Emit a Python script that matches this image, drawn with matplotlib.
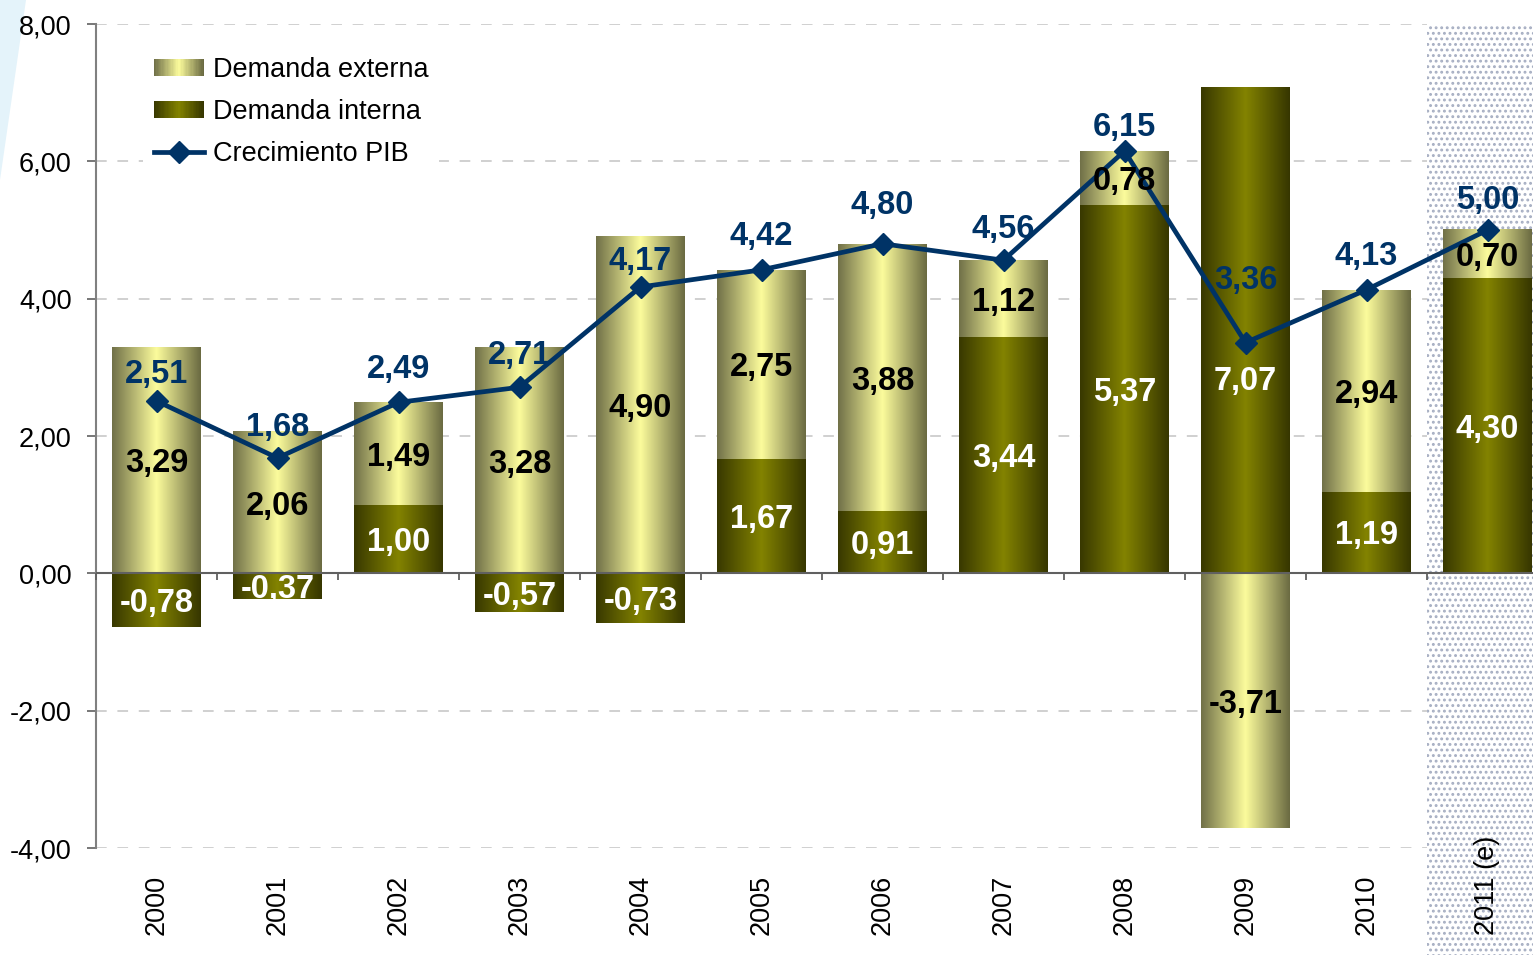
import numpy as np
import matplotlib
matplotlib.use('Agg')
import matplotlib.pyplot as plt
from matplotlib.colors import LinearSegmentedColormap
from matplotlib.patches import Rectangle, Polygon
from matplotlib.legend_handler import HandlerBase
from matplotlib.lines import Line2D
import matplotlib.transforms as mtransforms

# ---------------- data ----------------
years = ['2000', '2001', '2002', '2003', '2004', '2005', '2006', '2007',
         '2008', '2009', '2010', '2011 (e)']
demanda_interna = [-0.78, -0.37, 1.00, -0.57, -0.73, 1.67, 0.91, 3.44,
                   5.37, 7.07, 1.19, 4.30]
demanda_externa = [3.29, 2.06, 1.49, 3.28, 4.90, 2.75, 3.88, 1.12,
                   0.78, -3.71, 2.94, 0.70]
crecimiento_pib = [2.51, 1.68, 2.49, 2.71, 4.17, 4.42, 4.80, 4.56,
                   6.15, 3.36, 4.13, 5.00]
yticks = [-4, -2, 0, 2, 4, 6, 8]
labels = ['Demanda externa', 'Demanda interna', 'Crecimiento PIB']

plt.rcParams['font.family'] = ['Liberation Sans', 'DejaVu Sans']
plt.rcParams['hatch.linewidth'] = 1.3


def fmt(v):
    return f'{v:.2f}'.replace('.', ',')


ext_cmap = LinearSegmentedColormap.from_list(
    'ext', [(0, '#707048'), (0.5, '#fcfc9c'), (1, '#6a6a42')])
int_cmap = LinearSegmentedColormap.from_list(
    'int', [(0, '#383800'), (0.5, '#838300'), (1, '#363600')])
navy = '#003366'

W, H = 1533, 955
fig = plt.figure(figsize=(W / 100, H / 100), dpi=100)
ax = fig.add_axes([96 / W, 1 - 848 / H, 1452 / W, 824 / H])

n = len(years)
x = np.arange(n)
bw = 0.73
grad = np.linspace(0, 1, 256).reshape(1, -1)

# decorative swoosh in top-left corner
fig.patches.append(Polygon([(0, 1), (26 / W, 1), (0, 1 - 180 / H)],
                           closed=True, transform=fig.transFigure,
                           facecolor='#e4f3fa', edgecolor='none', zorder=-5))

# dotted background for the estimated year
trans_xa = mtransforms.blended_transform_factory(ax.transData, ax.transAxes)
bottom_axes = -(1 - 848 / H) / (824 / H) - 0.01
ax.add_patch(Rectangle((n - 1.5, bottom_axes), 1.0, 1 - bottom_axes,
                       transform=trans_xa, facecolor='white',
                       edgecolor='#a6aec2', hatch='...', linewidth=0,
                       clip_on=False, zorder=0.5))

# bars with horizontal gradient
for i in range(n):
    vi = demanda_interna[i]
    ve = demanda_externa[i]
    bi = 0.0
    be = vi if (vi >= 0) == (ve >= 0) else 0.0
    ax.imshow(grad, cmap=int_cmap, extent=[x[i] - bw / 2, x[i] + bw / 2, bi, bi + vi],
              aspect='auto', interpolation='bilinear', zorder=2)
    ax.imshow(grad, cmap=ext_cmap, extent=[x[i] - bw / 2, x[i] + bw / 2, be, be + ve],
              aspect='auto', interpolation='bilinear', zorder=2)
    # value labels
    yi = bi + vi / 2
    dy_i = -34 if i == 9 else 0
    ax.annotate(fmt(vi), (x[i], yi), xytext=(0, dy_i), textcoords='offset points',
                ha='center', va='center_baseline', fontsize=23.5, fontweight='bold',
                color='white', zorder=6)
    ax.annotate(fmt(ve), (x[i], be + ve / 2), ha='center', va='center_baseline',
                fontsize=23.5, fontweight='bold', color='black', zorder=6)

# GDP growth line
ax.plot(x, crecimiento_pib, color=navy, lw=3.4, marker='D', ms=11, zorder=5)
# label lift above each marker, in pixels (as placed in the original)
label_lift_px = [30, 34, 36, 35, 29, 37, 42, 34, 27, 66, 37, 33]
for i in range(n):
    ax.annotate(fmt(crecimiento_pib[i]), (x[i], crecimiento_pib[i]),
                xytext=(0, label_lift_px[i] * 0.72), textcoords='offset points',
                ha='center', va='center_baseline', fontsize=23.5,
                fontweight='bold', color=navy, zorder=7)

# axes styling
ax.set_xlim(-0.5, n - 0.5)
ax.set_ylim(-4, 8)
for s in ['top', 'right', 'bottom']:
    ax.spines[s].set_visible(False)
ax.spines['left'].set_color('#808080')
ax.spines['left'].set_linewidth(1.5)
ax.set_yticks(yticks)
ax.set_yticklabels([fmt(v) for v in yticks])
ax.tick_params(axis='y', direction='out', length=6.5, width=1.2,
               color='#606060', pad=11, labelsize=19.5)
ax.set_xticks([])
for v in yticks:
    if v != 0:
        ax.axhline(v, color='#c4c4c4', lw=1.1, ls=(0, (7, 7)), zorder=0.3)
ax.axhline(0, color='#606060', lw=1.5, zorder=4)
ax.vlines(np.arange(n + 1) - 0.5, -0.1, 0, color='#606060', lw=1.3, zorder=4,
          clip_on=False)

# category labels (rotated, aligned at their start)
trans_xf = mtransforms.blended_transform_factory(ax.transData, fig.transFigure)
for i in range(n):
    ax.text(x[i], 1 - 935 / H, years[i], rotation=90, ha='center', va='bottom',
            fontsize=19.5, transform=trans_xf)


# legend with gradient handles
class GradientHandler(HandlerBase):
    def __init__(self, cmap, steps=40):
        super().__init__()
        self.cmap = cmap
        self.steps = steps

    def create_artists(self, legend, orig_handle, xdescent, ydescent, width,
                       height, fontsize, trans):
        arts = []
        for k in range(self.steps):
            arts.append(Rectangle((-xdescent + k * width / self.steps, -ydescent),
                                  width / self.steps * 1.1, height,
                                  facecolor=self.cmap(k / (self.steps - 1)),
                                  edgecolor='none', transform=trans))
        return arts


h_ext = Rectangle((0, 0), 1, 1)
h_int = Rectangle((0, 0), 1, 1)
h_pib = Line2D([], [], color=navy, lw=3.4, marker='D', ms=11)
leg = ax.legend([h_ext, h_int, h_pib], labels,
                handler_map={h_ext: GradientHandler(ext_cmap),
                             h_int: GradientHandler(int_cmap)},
                loc='upper left', bbox_to_anchor=(143 / W, 1 - 46 / H),
                bbox_transform=fig.transFigure, fontsize=19.5,
                frameon=True, fancybox=False, framealpha=1, edgecolor='none',
                facecolor='white', handlelength=1.85, handleheight=0.6,
                handletextpad=0.33, labelspacing=0.6, borderpad=0.4,
                borderaxespad=0)
leg.set_zorder(8)

fig.savefig('out.png', dpi=100)
